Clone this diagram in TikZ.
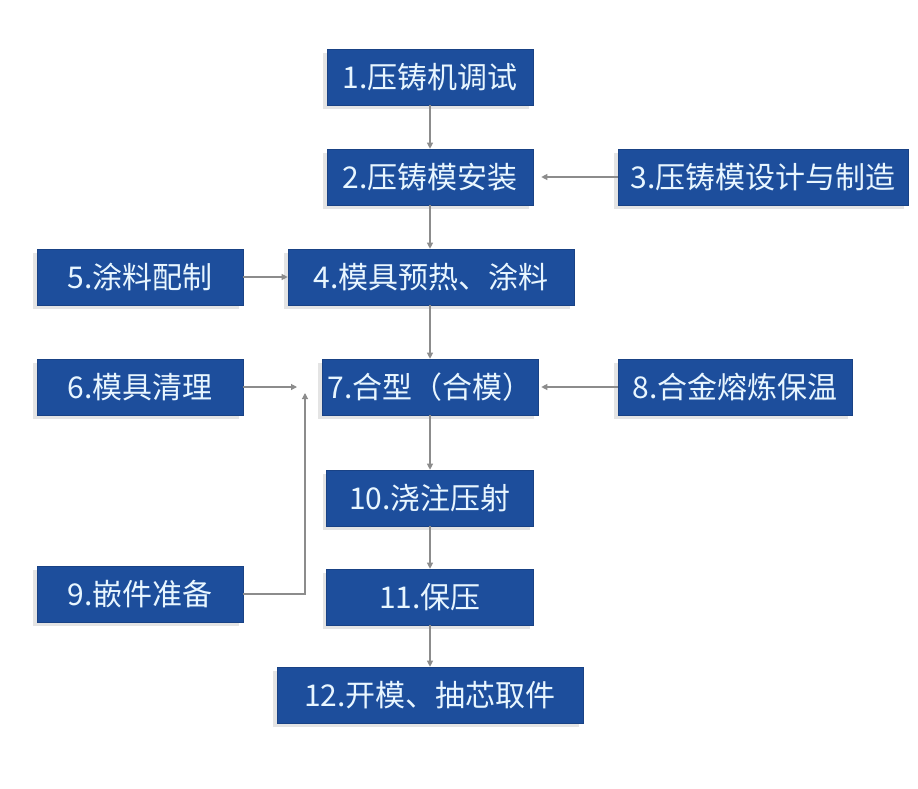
\documentclass[tikz,border=0pt]{standalone}
\usepackage{fontspec}
\newfontfamily\cjk{Noto Sans CJK SC}
\usetikzlibrary{shadows,arrows.meta}
\definecolor{boxblue}{RGB}{29,78,156}
\definecolor{boxtext}{RGB}{232,246,255}
\definecolor{linegray}{RGB}{140,140,140}
\begin{document}
\begin{tikzpicture}[x=1pt,y=-1pt,
  stepbox/.style={draw=boxblue!85!black, line width=0.6pt, fill=boxblue, text=boxtext,
    font=\cjk\fontsize{30}{33}\selectfont, minimum height=56pt, inner sep=0pt,
    drop shadow={shadow xshift=-4pt, shadow yshift=-4pt, fill=gray!60, opacity=0.35}},
  conn/.style={draw=linegray, line width=1.1pt, -{Triangle[length=6pt,width=6pt]}}]
\useasboundingbox (0,0) rectangle (918,788);
\fill[white] (0,0) rectangle (918,788);
\node[stepbox, minimum width=206pt] (n1) at (430,77) {1.压铸机调试};
\node[stepbox, minimum width=206pt] (n2) at (430,177) {2.压铸模安装};
\node[stepbox, minimum width=290pt] (n3) at (763,177) {3.压铸模设计与制造};
\node[stepbox, minimum width=286pt] (n4) at (431,277) {4.模具预热、涂料};
\node[stepbox, minimum width=206pt] (n5) at (140,277) {5.涂料配制};
\node[stepbox, minimum width=206pt] (n6) at (140,387) {6.模具清理};
\node[stepbox, minimum width=216pt] (n7) at (430,387) {7.合型（合模）};
\node[stepbox, minimum width=234pt] (n8) at (735,387) {8.合金熔炼保温};
\node[stepbox, minimum width=207pt] (n10) at (430,498) {10.浇注压射};
\node[stepbox, minimum width=206pt] (n9) at (140,594) {9.嵌件准备};
\node[stepbox, minimum width=207pt] (n11) at (430,597) {11.保压};
\node[stepbox, minimum width=306pt] (n12) at (430,695) {12.开模、抽芯取件};
\coordinate (e6) at (297,387);
\coordinate (e9) at (305,393);
\draw[conn] (n1) -- (n2);
\draw[conn, shorten >=8pt] (n3) -- (n2);
\draw[conn] (n2) -- (n2 |- n4.north);
\draw[conn] (n5) -- (n4);
\draw[conn] (n4.south -| n7) -- (n7);
\draw[conn] (n6) -- (e6);
\draw[conn, shorten >=3pt] (n8) -- (n7);
\draw[conn] (n9.east) -| (e9);
\draw[conn] (n7) -- (n10);
\draw[conn] (n10) -- (n11);
\draw[conn] (n11) -- (n12);
\end{tikzpicture}
\end{document}
